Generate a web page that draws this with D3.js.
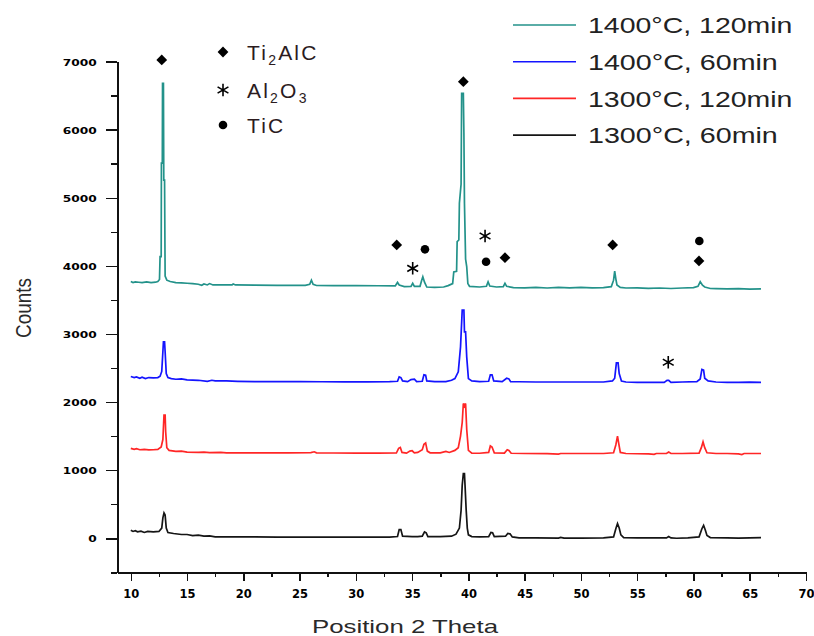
<!DOCTYPE html>
<html>
<head>
<meta charset="utf-8">
<script src="https://cdn.jsdelivr.net/npm/d3@7"></script>
<style>
  body { margin: 0; background: #fff; }
  svg { display: block; }
</style>
</head>
<body>
<svg id="chart" width="814" height="636"></svg>
<script>
// ---- data ----
const xMajorTicks = [10, 15, 20, 25, 30, 35, 40, 45, 50, 55, 60, 65, 70];
const xMinorTicks = [12.5, 17.5, 22.5, 27.5, 32.5, 37.5, 42.5, 47.5, 52.5, 57.5, 62.5, 67.5];
const yMajorTicks = [0, 1000, 2000, 3000, 4000, 5000, 6000, 7000];
const yMinorTicks = [-500, 500, 1500, 2500, 3500, 4500, 5500, 6500];

const seriesNames = ["1400°C, 120min", "1400°C, 60min", "1300°C, 120min", "1300°C, 60min"];

// [2θ, counts]
const scan1400_120 = [[10,3770],[10.2,3755],[10.4,3765],[10.7,3760],[11.0,3755],[11.4,3765],[11.8,3755],[12.2,3760],[12.4,3770],[12.55,3800],[12.6,4135],[12.7,4135],[12.72,5510],[12.8,5510],[12.82,6680],[12.9,6680],[12.93,5260],[13.0,5260],[13.05,3850],[13.2,3790],[13.5,3770],[14.0,3755],[14.5,3750],[15.0,3745],[15.5,3740],[16.0,3730],[16.3,3715],[16.5,3735],[16.8,3720],[17.0,3740],[17.3,3720],[18,3720],[19,3720],[19.1,3735],[19.3,3720],[21,3718],[23,3715],[25.5,3715],[25.9,3730],[26.05,3790],[26.2,3730],[26.5,3712],[28,3710],[30,3710],[32,3708],[33.5,3705],[33.7,3757],[33.85,3720],[34.3,3695],[34.9,3700],[35.05,3745],[35.2,3700],[35.7,3700],[35.85,3790],[35.95,3840],[36.1,3760],[36.3,3690],[37,3685],[37.8,3690],[38.2,3710],[38.6,3740],[38.7,3910],[38.95,3920],[39.0,4355],[39.15,4380],[39.2,4920],[39.35,5200],[39.4,6535],[39.55,6535],[39.6,5950],[39.65,4920],[39.75,4100],[39.85,3990],[39.95,3740],[40.1,3700],[41,3690],[41.6,3700],[41.75,3766],[41.9,3705],[42.5,3690],[43.1,3695],[43.25,3743],[43.4,3700],[44,3680],[45,3678],[46,3685],[47,3675],[48,3685],[49,3678],[50,3685],[51,3678],[52,3680],[52.7,3695],[52.9,3790],[53.0,3924],[53.1,3810],[53.2,3720],[53.5,3685],[54,3675],[55,3678],[56,3670],[57,3675],[58,3668],[59,3675],[60,3680],[60.4,3700],[60.6,3766],[60.8,3715],[61.0,3690],[61.5,3668],[62,3665],[63,3662],[64,3665],[65,3660],[66,3662]];

const scan1400_60 = [[10.0,2375],[10.3,2360],[10.5,2370],[10.8,2350],[11.0,2365],[11.3,2345],[11.6,2360],[12.0,2355],[12.4,2360],[12.6,2380],[12.75,2450],[12.85,2738],[12.9,2885],[13.0,2885],[13.05,2738],[13.15,2420],[13.3,2360],[13.6,2345],[14.0,2335],[14.5,2340],[15,2325],[16,2320],[16.8,2305],[17.2,2320],[17.5,2310],[18.5,2310],[19.5,2305],[21,2300],[23,2300],[25,2300],[27,2298],[29,2298],[31,2298],[33,2300],[33.7,2305],[33.85,2370],[34.0,2360],[34.15,2310],[34.6,2300],[34.9,2330],[35.2,2335],[35.4,2300],[35.9,2305],[36.05,2400],[36.2,2395],[36.3,2310],[37,2300],[38,2300],[38.5,2320],[38.8,2345],[39.1,2444],[39.3,2811],[39.45,3350],[39.6,3350],[39.65,3032],[39.75,3032],[39.85,2664],[40.0,2345],[40.3,2310],[41,2300],[41.8,2305],[41.95,2400],[42.1,2400],[42.25,2310],[43,2300],[43.4,2350],[43.6,2340],[43.75,2300],[44.5,2298],[46,2295],[48,2295],[50,2295],[52,2295],[52.8,2310],[53.0,2350],[53.15,2576],[53.3,2576],[53.4,2420],[53.6,2310],[54,2295],[55,2290],[56,2290],[57.4,2290],[57.65,2320],[57.8,2320],[58,2290],[59,2295],[60.3,2300],[60.6,2340],[60.75,2479],[60.9,2470],[61.0,2350],[61.3,2310],[62,2295],[63,2290],[64,2290],[65,2292],[66,2290]];

const scan1300_120 = [[10,1320],[10.3,1305],[10.5,1315],[10.8,1300],[11.2,1305],[11.6,1298],[12.0,1300],[12.4,1305],[12.7,1340],[12.85,1450],[12.95,1807],[13.05,1807],[13.1,1560],[13.2,1330],[13.4,1290],[14,1275],[14.5,1280],[15,1265],[16,1260],[16.5,1265],[17,1258],[18,1262],[18.5,1255],[20,1255],[22,1255],[24,1255],[26,1258],[26.3,1270],[26.5,1255],[28,1252],[30,1250],[32,1250],[33.6,1252],[33.8,1320],[33.95,1333],[34.1,1260],[34.5,1250],[34.8,1280],[35.0,1285],[35.2,1255],[35.5,1260],[35.9,1300],[36.05,1380],[36.2,1400],[36.35,1280],[36.6,1255],[37.5,1255],[38.0,1275],[38.3,1260],[38.8,1290],[39.1,1330],[39.3,1500],[39.45,1700],[39.55,1980],[39.65,1940],[39.75,1980],[39.85,1600],[40.0,1290],[40.3,1250],[41,1248],[41.8,1260],[41.95,1356],[42.1,1340],[42.3,1255],[43.2,1250],[43.45,1300],[43.6,1290],[43.8,1248],[45,1245],[47,1242],[48,1235],[48.2,1245],[50,1245],[52,1245],[52.9,1255],[53.1,1370],[53.25,1500],[53.35,1400],[53.5,1260],[54,1245],[56,1240],[56.5,1232],[56.7,1245],[57.6,1245],[57.8,1265],[58,1245],[59,1245],[60.5,1250],[60.7,1330],[60.85,1415],[61.0,1330],[61.2,1255],[62,1245],[63,1245],[64,1240],[64.3,1230],[64.5,1245],[66,1245]];

const scan1300_60 = [[10,117],[10.2,100],[10.4,110],[10.6,95],[10.9,105],[11.2,85],[11.5,100],[12,95],[12.5,100],[12.75,150],[12.85,300],[12.95,372],[13.05,340],[13.15,150],[13.3,85],[13.8,70],[14.5,55],[15,55],[15.5,40],[16,45],[16.5,30],[17,35],[17.5,20],[19,20],[21,20],[23,18],[25,18],[27,17],[29,17],[31,17],[33,18],[33.7,25],[33.85,127],[34.0,127],[34.15,30],[35,25],[35.5,25],[35.9,30],[36.1,93],[36.25,80],[36.4,25],[37.5,25],[38.5,30],[38.9,60],[39.2,150],[39.35,410],[39.45,780],[39.55,950],[39.65,950],[39.7,780],[39.8,420],[39.9,150],[40.0,50],[40.3,25],[41,20],[41.8,25],[42.0,85],[42.15,80],[42.3,25],[43.3,30],[43.5,70],[43.7,65],[43.9,20],[44.5,5],[46,5],[48,3],[48.2,12],[48.5,3],[50,3],[52,5],[52.9,20],[53.1,140],[53.25,216],[53.4,150],[53.55,50],[53.8,10],[55,5],[57,5],[57.6,5],[57.8,25],[58,5],[58.5,0],[59.5,5],[60.5,20],[60.75,140],[60.9,190],[61.05,120],[61.2,40],[61.5,10],[63,5],[64,3],[65,5],[66,8]];

// phase markers placed over the peaks, [2θ, counts]
const ti2alcMarks = [[12.75,7025],[39.55,6705],[33.63,4307],[43.25,4120],[52.82,4307],[60.49,4072]];
const al2o3Marks = [[35.05,3964],[41.48,4439],[57.76,2584]];
const ticMarks = [[36.14,4243],[41.57,4061],[60.52,4365]];

// ---- styles ----
const seriesColors = ["#23928a", "#1414ff", "#ff2626", "#151515"];
const scans = [scan1400_120, scan1400_60, scan1300_120, scan1300_60];

const svg = d3.select("#chart");

const x = d3.scaleLinear().domain([8.8, 70]).range([117.3, 806]);
const y = d3.scaleLinear().domain([-500, 7000]).range([572.3, 61.6]);

// ---- axes ----
const axisColor = "#111";

const yAxisG = svg.append("g").attr("transform", `translate(${x.range()[0]},0)`);
yAxisG.call(d3.axisLeft(y).tickValues(yMajorTicks).tickFormat(d3.format("d"))
  .tickSize(11).tickSizeOuter(0).tickPadding(9));
const yMinorG = svg.append("g").attr("transform", `translate(${x.range()[0]},0)`);
yMinorG.call(d3.axisLeft(y).tickValues(yMinorTicks).tickSize(6).tickSizeOuter(0).tickFormat(""));
yMinorG.select(".domain").remove();

const xAxisG = svg.append("g").attr("transform", `translate(0,${y.range()[0]})`);
xAxisG.call(d3.axisBottom(x).tickValues(xMajorTicks).tickFormat(d3.format("d"))
  .tickSize(9).tickSizeOuter(0));
const xMinorG = svg.append("g").attr("transform", `translate(0,${y.range()[0]})`);
xMinorG.call(d3.axisBottom(x).tickValues(xMinorTicks).tickSize(5).tickSizeOuter(0).tickFormat(""));
xMinorG.select(".domain").remove();

svg.selectAll(".domain, .tick line")
  .attr("stroke", axisColor)
  .attr("stroke-width", 1.5)
  .attr("shape-rendering", "crispEdges");

yAxisG.selectAll(".tick text")
  .attr("fill", "#000")
  .attr("font-family", "'DejaVu Sans', sans-serif")
  .attr("font-weight", "bold")
  .attr("font-size", 9.5)
  .attr("x", -20.5)
  .attr("dy", "0.36em")
  .attr("textLength", function () { return this.textContent.length * 8.5; })
  .attr("lengthAdjust", "spacingAndGlyphs");

xAxisG.selectAll(".tick text")
  .attr("fill", "#000")
  .attr("font-family", "'DejaVu Sans', sans-serif")
  .attr("font-weight", "bold")
  .attr("font-size", 12)
  .attr("y", 21.7)
  .attr("dy", "0.36em")
  .attr("textLength", function () { return this.textContent.length * 8; })
  .attr("lengthAdjust", "spacingAndGlyphs");

// axis titles
svg.append("text")
  .attr("x", 405).attr("y", 633)
  .attr("text-anchor", "middle")
  .attr("font-family", "'Liberation Sans', Arial, sans-serif")
  .attr("font-size", 19)
  .attr("fill", "#2a2a2a")
  .attr("textLength", 186)
  .attr("lengthAdjust", "spacingAndGlyphs")
  .text("Position 2 Theta");

svg.append("text")
  .attr("transform", "translate(31,308) rotate(-90)")
  .attr("text-anchor", "middle")
  .attr("font-family", "'Liberation Sans', Arial, sans-serif")
  .attr("font-size", 22)
  .attr("fill", "#2a2a2a")
  .attr("textLength", 60)
  .attr("lengthAdjust", "spacingAndGlyphs")
  .text("Counts");

// ---- diffraction patterns ----
const line = d3.line().x(d => x(d[0])).y(d => y(d[1]));
svg.append("g").selectAll("path")
  .data(scans)
  .join("path")
  .attr("d", line)
  .attr("fill", "none")
  .attr("stroke", (d, i) => seriesColors[i])
  .attr("stroke-width", 1.7)
  .attr("stroke-linejoin", "miter");

// ---- phase symbols ----
const diamond = d3.symbol().type(d3.symbolSquare).size(58)();
const dot = d3.symbol().type(d3.symbolCircle).size(58)();
const star = d3.symbol().type(d3.symbolAsterisk).size(110)();

function drawMarks(data, path, isStroke) {
  const g = svg.append("g");
  g.selectAll("path")
    .data(data)
    .join("path")
    .attr("d", path)
    .attr("transform", d => `translate(${x(d[0])},${y(d[1])})` + (path === diamond ? " rotate(45)" : ""))
    .attr("fill", isStroke ? "none" : "#000")
    .attr("stroke", isStroke ? "#000" : "none")
    .attr("stroke-width", isStroke ? 1.6 : 0);
}
drawMarks(ti2alcMarks, diamond, false);
drawMarks(al2o3Marks, star, true);
drawMarks(ticMarks, dot, false);

// ---- phase key ----
const phaseKey = [
  { sym: diamond, stroke: false, parts: [["Ti", 0], ["2", 1], ["AlC", 0]] },
  { sym: star, stroke: true, parts: [["Al", 0], ["2", 1], ["O", 0], ["3", 1]] },
  { sym: dot, stroke: false, parts: [["TiC", 0]] }
];
const keyY = [52, 90, 125];
phaseKey.forEach((k, i) => {
  svg.append("path")
    .attr("d", k.sym)
    .attr("transform", `translate(223,${keyY[i]})` + (k.sym === diamond ? " rotate(45)" : ""))
    .attr("fill", k.stroke ? "none" : "#000")
    .attr("stroke", k.stroke ? "#000" : "none")
    .attr("stroke-width", k.stroke ? 1.6 : 0);
  const t = svg.append("text")
    .attr("x", 247).attr("y", keyY[i] + 7.5)
    .attr("font-family", "'Liberation Sans', Arial, sans-serif")
    .attr("font-size", 21)
    .attr("letter-spacing", 2.2)
    .attr("fill", "#2b1b1e");
  let sub = false;
  k.parts.forEach(([s, isSub]) => {
    const ts = t.append("tspan").text(s);
    if (isSub && !sub) { ts.attr("dy", 5).attr("font-size", 14); sub = true; }
    else if (isSub && sub) { ts.attr("font-size", 14); }
    else if (!isSub && sub) { ts.attr("dy", -5); sub = false; }
  });
});

// ---- series legend ----
const legendY0 = 25, legendStep = 36.7;
seriesNames.forEach((name, i) => {
  const ly = legendY0 + i * legendStep;
  svg.append("line")
    .attr("x1", 513).attr("x2", 576)
    .attr("y1", ly).attr("y2", ly)
    .attr("stroke", seriesColors[i])
    .attr("stroke-width", 1.6);
  svg.append("text")
    .attr("x", 588).attr("y", ly + 8.3)
    .attr("font-family", "'Liberation Sans', Arial, sans-serif")
    .attr("font-size", 22.5)
    .attr("fill", "#222")
    .attr("textLength", name.length * 14.6)
    .attr("lengthAdjust", "spacingAndGlyphs")
    .text(name);
});
</script>
</body>
</html>
